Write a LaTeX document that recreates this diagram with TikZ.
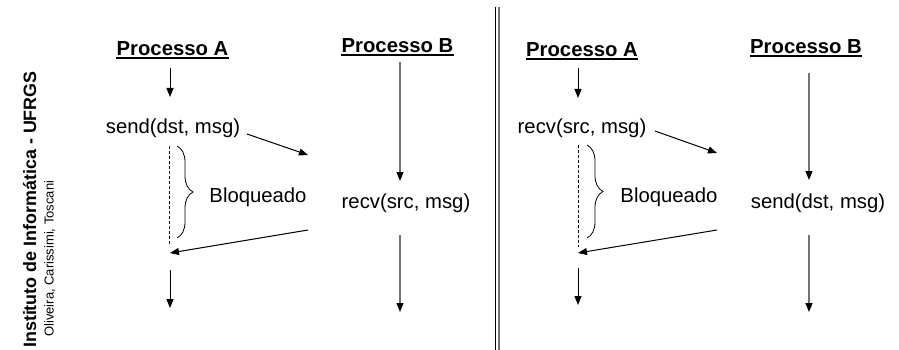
\documentclass[tikz,border=0pt]{standalone}
\usepackage{fontspec}
\setmainfont{Liberation Sans}
\usetikzlibrary{arrows.meta,decorations.pathreplacing}
\definecolor{lgray}{RGB}{115,115,115}
\begin{document}
\begin{tikzpicture}[x=1pt,y=-1pt,
  lbl/.style={inner sep=0pt, anchor=base, font=\fontsize{20.3}{24}\selectfont},
  head/.style={inner sep=0pt, anchor=base, font=\fontsize{20.3}{24}\selectfont\bfseries},
  uline/.style={line width=1.2pt},
  arr/.style={line width=1pt, -{Triangle[length=9pt,width=7pt]}},
  garr/.style={line width=1.3pt, draw=lgray, -{Triangle[length=9pt,width=7pt,color=black]}},
  dline/.style={line width=0.8pt, dash pattern=on 3pt off 2pt},
  bracestyle/.style={line width=0.8pt, decorate, decoration={brace, amplitude=16pt}}
]
\useasboundingbox (0,0) rectangle (899,350);

% side titles
\node[inner sep=0pt, rotate=90, anchor=base west, font=\fontsize{17.9}{20}\selectfont\bfseries] (inst) at (36,348) {Instituto de Informática - UFRGS};
\node[inner sep=0pt, rotate=90, anchor=base west, font=\fontsize{13}{15}\selectfont] (auth) at (53.5,337) {Oliveira, Carissimi, Toscani};

% separator
\coordinate (sep1a) at (495.5,7);
\coordinate (sep1b) at (495.5,350);
\coordinate (sep2a) at (498.5,7);
\coordinate (sep2b) at (498.5,350);
\draw[line width=1pt] (sep1a) -- (sep1b);
\draw[line width=2pt, lgray] (sep2a) -- (sep2b);

% ---------- left half ----------
\node[head] (lpa) at (172.5,56) {Processo A};
\node[head] (lpb) at (397.5,53) {Processo B};
\draw[uline] ([yshift=-2pt]lpa.base west) -- ([yshift=-2pt]lpa.base east);
\draw[uline] ([yshift=-2pt]lpb.base west) -- ([yshift=-2pt]lpb.base east);

\node[lbl] (lsend) at (173,133) {send(dst, msg)};
\node[lbl] (lblq) at (258,202) {Bloqueado};
\node[lbl] (lrecv) at (406,208) {recv(src, msg)};

\coordinate (la1s) at (170,68);
\coordinate (la1e) at (170,97);
\coordinate (la2s) at (170,270);
\coordinate (la2e) at (170,308);
\coordinate (lb1s) at (400,62);
\coordinate (lb1e) at (400,181);
\coordinate (lb2s) at (400,235);
\coordinate (lb2e) at (400,312);
\coordinate (lm1s) at (247,134);
\coordinate (lm1e) at (308,155);
\coordinate (lm2s) at (308,230);
\coordinate (lm2e) at (170,253);
\coordinate (lds) at (169,146);
\coordinate (lde) at (169,246);
\coordinate (lbrs) at (177,146);
\coordinate (lbre) at (177,238);

\draw[arr] (la1s) -- (la1e);
\draw[arr] (la2s) -- (la2e);
\draw[garr] (lb1s) -- (lb1e);
\draw[garr] (lb2s) -- (lb2e);
\draw[arr] (lm1s) -- (lm1e);
\draw[arr] (lm2s) -- (lm2e);
\draw[dline] (lds) -- (lde);
\draw[bracestyle] (lbrs) -- (lbre);

% ---------- right half ----------
\node[head] (rpa) at (582,57) {Processo A};
\node[head] (rpb) at (806,54) {Processo B};
\draw[uline] ([yshift=-2pt]rpa.base west) -- ([yshift=-2pt]rpa.base east);
\draw[uline] ([yshift=-2pt]rpb.base west) -- ([yshift=-2pt]rpb.base east);

\node[lbl] (rrecv) at (582,133) {recv(src, msg)};
\node[lbl] (rblq) at (669,202) {Bloqueado};
\node[lbl] (rsend) at (818,208) {send(dst, msg)};

\coordinate (ra1s) at (578,68);
\coordinate (ra1e) at (578,98);
\coordinate (ra2s) at (578,268);
\coordinate (ra2e) at (578,305);
\coordinate (rb1s) at (809,73);
\coordinate (rb1e) at (809,180);
\coordinate (rb2s) at (809,235);
\coordinate (rb2e) at (809,312);
\coordinate (rm1s) at (655,131);
\coordinate (rm1e) at (717,153);
\coordinate (rm2s) at (717,230);
\coordinate (rm2e) at (578,253);
\coordinate (rds) at (578,145);
\coordinate (rde) at (578,247);
\coordinate (rbrs) at (587,145);
\coordinate (rbre) at (587,238);

\draw[arr] (ra1s) -- (ra1e);
\draw[arr] (ra2s) -- (ra2e);
\draw[garr] (rb1s) -- (rb1e);
\draw[garr] (rb2s) -- (rb2e);
\draw[arr] (rm1s) -- (rm1e);
\draw[arr] (rm2s) -- (rm2e);
\draw[dline] (rds) -- (rde);
\draw[bracestyle] (rbrs) -- (rbre);
\end{tikzpicture}
\end{document}
